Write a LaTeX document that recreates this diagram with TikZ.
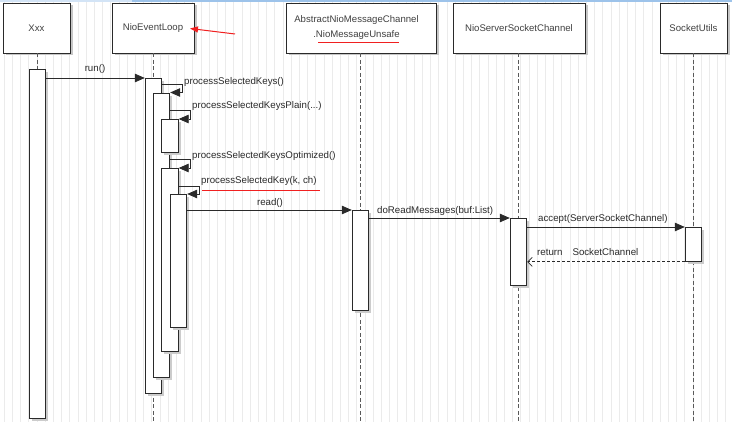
\documentclass[tikz,border=0pt]{standalone}
\usepackage{fontspec}
\setmainfont{Liberation Sans}
\usetikzlibrary{arrows.meta,shadows,calc}
\definecolor{ink}{HTML}{2A2A2A}
\definecolor{txt}{HTML}{2A2A2A}
\definecolor{hdrtxt}{HTML}{404040}
\definecolor{gridc}{HTML}{EBEBEB}
\definecolor{topbar}{HTML}{9DC3EA}
\definecolor{annot}{HTML}{F02020}
\tikzset{
  hdr/.style={draw=ink, line width=0.9pt, fill=white, minimum height=50pt, inner sep=0pt,
    drop shadow={shadow xshift=2.5pt, shadow yshift=-2.5pt, fill=black!22, opacity=1},
    font=\fontsize{9.6}{15}\selectfont, text=hdrtxt, align=center},
  act/.style={draw=ink, line width=0.9pt, fill=white, minimum width=16.5pt, inner sep=0pt, anchor=north,
    drop shadow={shadow xshift=2.5pt, shadow yshift=-2.5pt, fill=black!20, opacity=1}},
  life/.style={draw=black!65, line width=1.1pt, dash pattern=on 4pt off 2.5pt},
  msg/.style={draw=ink, line width=0.8pt, -{Triangle[length=10pt,width=8.5pt]}},
  ret/.style={draw=ink, line width=0.8pt, dash pattern=on 3pt off 2pt, -{Straight Barb[length=4.5pt,width=9pt]}},
  lbl/.style={font=\fontsize{9.7}{11}\selectfont, text=txt, inner sep=0pt},
  red/.style={draw=annot, line width=1pt}
}
\begin{document}
\begin{tikzpicture}[x=1pt,y=-1pt]
\useasboundingbox (0,0) rectangle (732,422);
\fill[white] (0,0) rectangle (732,422);
\draw[gridc, line width=0.6pt, step=8.2, xshift=4.1pt, yshift=-4.1pt] (-4.1,-4.1) grid (740,430);
\fill[topbar!45] (0,0) rectangle (132,2.2);
\fill[topbar] (132,0) rectangle (732,2.2);

% headers
\node[hdr, minimum width=67pt] (hX) at (36.5,28) {Xxx};
\node[hdr, minimum width=82pt] (hN) at (153,28) {NioEventLoop};
\node[hdr, minimum width=150pt] (hA) at (361,28) {\hspace*{-9pt}AbstractNioMessageChannel\\\hspace*{-9pt}.NioMessageUnsafe};
\node[hdr, minimum width=132pt] (hS) at (519,28) {NioServerSocketChannel};
\node[hdr, minimum width=67pt] (hU) at (693.5,28) {SocketUtils};

% lifelines
\coordinate (bX) at (37.5,422);
\coordinate (bN) at (153.5,422);
\coordinate (bA) at (360.5,422);
\coordinate (bS) at (518.5,422);
\coordinate (bU) at (693.5,422);
\draw[life] (hX.south -| bX) -- (bX);
\draw[life] (hN.south -| bN) -- (bN);
\draw[life] (hA.south -| bA) -- (bA);
\draw[life] (hS.south -| bS) -- (bS);
\draw[life] (hU.south -| bU) -- (bU);

% activations
\node[act, minimum height=349pt] (aX) at (37.5,69) {};
\node[act, minimum height=315pt] (aN1) at (153.5,78) {};
\node[act, minimum height=284pt] (aN2) at (161.5,93) {};
\node[act, minimum height=33pt] (aN3) at (170,119) {};
\node[act, minimum height=183pt] (aN4) at (170,168) {};
\node[act, minimum height=133pt] (aN5) at (178.5,194) {};
\node[act, minimum height=100pt] (aA) at (360.5,210) {};
\node[act, minimum height=67pt] (aS) at (518.5,218) {};
\node[act, minimum height=34pt] (aU) at (693.5,227) {};

% messages
\draw[msg] (aX.east |- aN1.north west) -- (aN1.north west);
\node[lbl] (lrun) at (95,69) {run()};

\draw[msg] (aN1.east |- 0,84) -- (182,84) -- (182,92.5) -- (aN2.east |- 0,92.5);
\node[lbl, anchor=west] (l1) at (184,82) {processSelectedKeys()};

\draw[msg] (aN2.east |- 0,110) -- (190,110) -- (190,119) -- (aN3.north east);
\node[lbl, anchor=west] (l2) at (192,106) {processSelectedKeysPlain(...)};

\draw[msg] (aN2.east |- 0,159) -- (190,159) -- (190,168) -- (aN4.north east);
\node[lbl, anchor=west] (l3) at (192,156) {processSelectedKeysOptimized()};

\draw[msg] (aN4.east |- 0,186) -- (199,186) -- (199,194) -- (aN5.north east);
\node[lbl, anchor=west] (l4) at (201,181) {processSelectedKey(k, ch)};

\draw[msg] (aN5.east |- aA.north west) -- (aA.north west);
\node[lbl] (l5) at (270,203) {read()};

\draw[msg] (aA.east |- aS.north west) -- (aS.north west);
\node[lbl, anchor=west] (l6) at (377,210.5) {doReadMessages(buf:List)};

\draw[msg] (aS.east |- aU.north west) -- (aU.north west);
\node[lbl, anchor=west] (l7) at (538,219) {accept(ServerSocketChannel)};

\draw[ret] (aU.south west) -- (aS.east |- aU.south west);
\node[lbl, anchor=west] (l8) at (537,252.5) {return\hspace{10pt}SocketChannel};

% red annotations
\coordinate (rA) at (235,34);
\coordinate (rB) at (190,28.5);
\draw[red, -{Triangle[length=8pt,width=6pt]}] (rA) -- (rB);
\coordinate (u1a) at (318,43);
\coordinate (u1b) at (399,43);
\draw[red] (u1a) -- (u1b);
\coordinate (u2a) at (202,191);
\coordinate (u2b) at (320,191);
\draw[red] (u2a) -- (u2b);
\end{tikzpicture}
\end{document}
